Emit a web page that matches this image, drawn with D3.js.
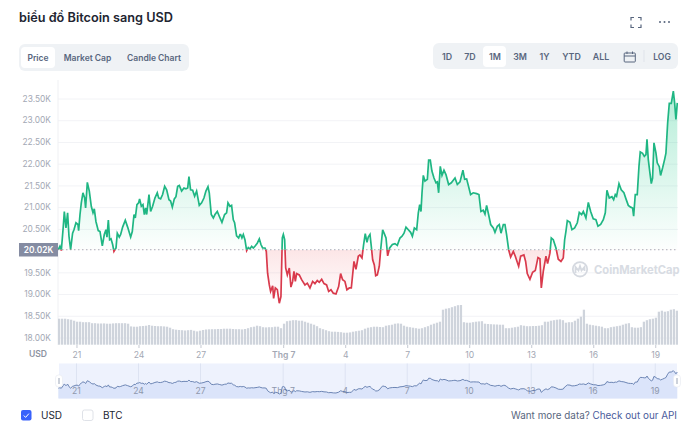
<!DOCTYPE html>
<html>
<head>
<meta charset="utf-8">
<script src="https://cdn.jsdelivr.net/npm/d3@7"></script>
<style>
	html, body { margin: 0; padding: 0; background: #fff; }
	text { font-family: Inter, "Noto Sans", sans-serif; }
</style>
</head>
<body>
<div id="chart"></div>
<script>
const TITLE = "biểu đồ Bitcoin sang USD";
const TYPE_TABS = ["Price", "Market Cap", "Candle Chart"];
const RANGE_TABS = ["1D", "7D", "1M", "3M", "1Y", "YTD", "ALL"];

// hours since 21 June
const hours = [-21.1,-19.2,-17.6,-15.3,-14.1,-12.2,-10.3,-8.7,-6.8,-4.5,-2.9,-0.6,1.7,2.5,4.1,5.6,7.5,9.5,10.6,12.6,14.9,17.2,19.2,20.7,22.6,25.3,27.3,30,32.3,34.2,35.4,37,38.5,40.1,42,43.5,45.9,47.4,49.7,51.3,53.6,56.7,59.4,62.9,64.8,66.8,68.3,70.2,72.2,73.3,75.3,77.2,78.8,80.3,81.5,84.2,86.1,88.4,91.1,93.8,95.4,97.7,100,102.4,104.7,107.4,109.3,111.3,113.6,115.5,117.5,119.4,122.1,124.8,127.1,129.1,130.6,132.5,134.9,137.2,139.5,142.6,145.3,148,150.3,152.7,154.2,156.5,158.9,160.8,163.5,165.8,168.9,172,174.3,175.9,178.2,180.1,182.1,183.6,185.9,188.3,189.8,
	190.6,192.1,193.7,195.6,197.6,199.5,201.4,203.4,205.3,207.2,209.9,212.3,214.2,216.1,218.9,220.4,221.9,223.9,225.4,227.8,228.9,230.9,233.2,235.5,237.4,239,240.2,241.7,242.9,244.8,247.1,249,251,252.5,254.1,255.6,258.7,261.4,265.3,268,271.1,274.2,276.9,279.6,281.9,284.7,287.4,290.4,292.8,295.5,298.2,301.3,304.4,306.7,309,311.7,314,316.8,319.1,322.2,324.5,327.2,329.1,331.5,333.4,335.3,337.3,338.8,340.8,342.3,343.9,345.8,347.4,349.3,351.6,353.2,355.5,357.4,359.4,361.3,363.6,366.8,369.8,372.5,375.6,378,380.3,382.6,385.3,388,390,392.3,395,396.9,398.5,400,401.2,402.7,404.6,407.4,408.9,410.8,412.7,415.1,417.4,419,420.5,422.4,424.4,426.7,429,432.1,435.2,437.5,439.5,442.2,445.3,
	448.7,450.7,453,455.7,457.6,460.7,464.6,467.3,469.6,472.3,474.3,476.2,478.5,480.9,484,485.9,488.6,490.9,492.9,495.6,497.5,499.4,501.8,504.1,507.2,509.5,511.8,513.4,515.7,519.5,521.5,523.4,526.5,529.6,532.7,535.8,538.1,539.7,542,545.1,547,549.7,551.3,553.6,556.7,559.4,562.5,565.2,566.8,568.3,569.9,573,575.3,578.4,581.5,583.8,586.5,588.5,591.5,594.3,597,600,603.1,605.5,608.6,611.7,614,615.9,618.6,621.7,623.7,625.6,627.1,629.9,632.5,635.6,638,640.7,643.4,645.7,646.9,648.8,651.1,653.1,654.6,657.3,659.3,661.2,662.4,663.9,665.8,667.4,668.9,670.5,672.8,674.3,676.7,678.2,680.5,682.9,684.4,686.4,688.3,690.6,693,694.5,696,697.6];

// price in thousands of USD
const prices = [20.02,20.10,20.00,20.56,20.90,20.52,20.87,20.33,20.02,20.40,20.48,20.64,20.60,20.46,20.83,21.10,21.33,21.21,20.98,21.57,21.37,21.02,20.87,20.96,20.67,20.46,20.44,20.11,20.37,20.48,20.31,20.70,20.25,20.27,20.14,19.98,20.06,20.40,20.31,20.37,20.54,20.70,20.54,20.31,20.44,20.83,20.75,21.06,21.10,21.19,21.02,21.06,20.83,20.98,20.83,21.29,20.90,21.02,21.21,21.33,21.21,21.19,21.29,21.48,21.40,21.17,21.14,21.00,21.19,21.24,21.48,21.50,21.37,21.44,21.42,21.44,21.70,21.40,21.39,21.25,21.37,21.04,21.10,21.21,21.37,21.47,21.33,20.83,20.75,20.83,20.90,20.79,20.65,20.83,20.87,21.10,21.02,21.04,20.71,20.64,20.34,20.29,20.37,
	20.37,20.29,20.37,20.25,20.00,20.07,20.04,20.10,20.06,20.10,20.17,20.27,20.14,20.06,20.06,19.98,19.48,19.21,19.06,19.19,18.90,19.14,19.10,18.79,18.94,20.29,20.37,20.25,19.60,19.44,19.60,19.16,19.29,19.52,19.29,19.47,19.44,19.33,19.21,19.25,19.14,19.29,19.24,19.31,19.27,19.34,19.24,19.21,19.06,19.10,19.02,19.00,19.17,19.47,19.33,19.29,19.10,19.14,19.14,19.75,19.57,19.87,19.90,19.83,20.14,20.39,20.19,20.31,20.37,20.10,19.79,19.67,19.42,19.44,19.64,20.02,20.48,20.39,20.29,19.88,20.06,20.14,20.16,20.12,20.29,20.33,20.40,20.54,20.48,20.42,20.33,20.52,20.48,20.87,21.06,20.90,21.33,21.73,21.60,21.64,22.08,22.08,21.83,21.67,21.56,21.58,21.33,21.94,21.73,21.85,21.75,21.52,21.56,21.62,21.67,21.52,21.58,
	21.85,21.64,21.65,21.44,21.29,21.33,21.31,21.29,20.90,20.93,20.84,21.04,20.83,20.60,20.52,20.42,20.56,20.60,20.40,20.60,20.60,20.37,20.02,19.85,19.98,19.87,19.73,19.64,19.87,19.90,19.75,19.47,19.34,19.50,19.54,19.84,19.81,19.14,19.52,19.87,19.70,19.94,20.29,20.25,20.06,19.80,19.75,19.83,20.25,20.44,20.69,20.65,20.48,20.52,20.64,20.88,20.83,20.90,20.75,21.11,20.90,20.73,20.71,20.56,20.60,20.71,20.87,21.39,21.21,21.24,21.17,21.29,21.25,21.54,21.40,21.33,21.19,21.04,21.00,20.98,20.79,21.29,21.29,21.94,22.27,22.24,22.17,22.21,22.56,22.10,21.79,21.54,21.67,22.48,22.25,22.02,21.93,21.73,21.90,22.10,22.24,22.94,23.39,23.39,23.67,23.40,23.02,23.40];

const BASE_PRICE = 20.02;

// volume
const volumes = [26,26,26,25.5,25,24,23,23,22.5,22.5,22.5,21.5,21.5,21.2,21.2,21.3,21,21,21.3,21.5,21.5,21.5,21.5,21,18.3,18,18,18.5,18.7,19,19.7,19,18.7,18.5,18.5,18.3,18,17,15.5,15,14.7,14.5,14.2,14.5,14.8,14,13.3,14,14.7,15.2,15.4,15.5,15.5,15.7,15.7,16,16,16,15.7,15.5,15.5,15.3,15.7,16.5,17.5,18,19,18.5,17.5,17.3,17.5,17.5,18,18,16.5,21,23.5,24,24.5,24.5,24,24,23,22,21,20,18.5,16.5,15.5,14.5,13.5,13,13,12.8,12.5,12,12,
	12.3,13,13.5,14,14.5,16,17,17.5,18,18,17.7,17.5,19,19.5,20,21,21.3,21,19,18,17.5,17,16.5,16,16.5,17.5,18.5,20,21,22,23,35,36,36.5,37.5,38.5,39.5,39.7,22.5,22,22,22.5,23,23.3,23.5,21,20.7,20.5,20.3,20.2,20,20,16.5,16.5,17,17.5,18,19.5,19,18.5,18.5,18.7,18.7,19,19.5,23,23,24,24.5,25,25.3,24.5,22,22.5,22.5,24,26,28,35,21,20,19.5,19,18.5,18,16.5,16.5,17.5,18,18.5,19,20,21,21.5,17.5,17,17,17.5,23,24.5,25.5,26,27,33,34,33,33.5,35,35.5,34];

// 20.00K sits behind the 20.02K label, so it is not listed
const yTicks = [18, 18.5, 19, 19.5, 20.5, 21, 21.5, 22, 22.5, 23, 23.5];
const xTickHours = [0, 72, 144, 240, 312, 384, 456, 528, 600, 672];
const xTickLabels = ["21", "24", "27", "Thg 7", "4", "7", "10", "13", "16", "19"];

const WIDTH = 700, HEIGHT = 438;
const PLOT = { L: 58, R: 678, T: 80, B: 345 };
const GREEN = "#1fb683", RED = "#d93a4c", GREY = "#a3a8b4", TAB_TEXT = "#58667e";

var svg = d3.select("#chart").append("svg")
	.attr("width", WIDTH)
	.attr("height", HEIGHT)
	.style("display", "block");

var xScale = d3.scaleLinear().domain([-21.1, 697.6]).range([58.3, 677.3]);
var yScale = d3.scaleLinear().domain([18, 23.5]).range([337.5, 98.5]);
var volScale = d3.scaleLinear().domain([0, 40]).range([344.7, 304.7]);
var barScale = d3.scaleBand().domain(d3.range(volumes.length)).range([PLOT.L, PLOT.R]).paddingInner(0.25);
var navY = d3.scaleLinear().domain([18.79, 23.67]).range([394, 370.7]);

var series = hours.map(function(h, i) { return { h: h, p: prices[i] }; });

// header
svg.append("text").attr("x", 19).attr("y", 22)
	.attr("font-size", 12.7).attr("font-weight", 600).attr("fill", "#222531")
	.text(TITLE);

// fullscreen icon + more dots
svg.append("path")
	.attr("d", "M631 20.5v-3h3M638 17.5h3v3M641 24.5v3h-3M634 27.5h-3v-3")
	.attr("fill", "none").attr("stroke", "#58667e").attr("stroke-width", 1.2);
svg.selectAll(".dot").data([660, 664.5, 669]).enter().append("circle")
	.attr("class", "dot").attr("cx", function(d) { return d; }).attr("cy", 22).attr("r", 1)
	.attr("fill", "#58667e");

// type tabs
svg.append("rect").attr("x", 19).attr("y", 44).attr("width", 170).attr("height", 27).attr("rx", 6).attr("fill", "#eff2f5");
svg.append("rect").attr("x", 21).attr("y", 47).attr("width", 34).attr("height", 21).attr("rx", 4).attr("fill", "#fff");
var typeX = [38, 87.5, 154];
svg.selectAll(".type-tab").data(TYPE_TABS).enter().append("text")
	.attr("class", "type-tab")
	.attr("x", function(d, i) { return typeX[i]; })
	.attr("y", 60.5)
	.attr("text-anchor", "middle").attr("font-size", 8.5).attr("font-weight", 600).attr("fill", TAB_TEXT)
	.text(function(d) { return d; });

// range tabs
svg.append("rect").attr("x", 433).attr("y", 43).attr("width", 245).attr("height", 26).attr("rx", 6).attr("fill", "#eff2f5");
svg.append("rect").attr("x", 483).attr("y", 46).attr("width", 23).attr("height", 21).attr("rx", 4).attr("fill", "#fff");
var rangeX = [447, 470, 495, 520, 544.5, 571.5, 601];
svg.selectAll(".range-tab").data(RANGE_TABS).enter().append("text")
	.attr("class", "range-tab")
	.attr("x", function(d, i) { return rangeX[i]; })
	.attr("y", 60)
	.attr("text-anchor", "middle").attr("font-size", 8.8).attr("font-weight", 600).attr("fill", TAB_TEXT)
	.text(function(d) { return d; });
svg.append("path")
	.attr("d", "M625 53h9.5a0.8 0.8 0 0 1 .8 .8v7.4a0.8 0.8 0 0 1 -.8 .8h-9.5a0.8 0.8 0 0 1 -.8 -.8v-7.4a0.8 0.8 0 0 1 .8 -.8zM624.2 56h11.1M627 51.5v2.5M632.5 51.5v2.5")
	.attr("fill", "none").attr("stroke", TAB_TEXT).attr("stroke-width", 1);
svg.append("line").attr("x1", 644).attr("x2", 644).attr("y1", 50).attr("y2", 62).attr("stroke", "#dfe3ea");
svg.append("text").attr("x", 662).attr("y", 59.5).attr("text-anchor", "middle")
	.attr("font-size", 8.6).attr("font-weight", 600).attr("fill", TAB_TEXT).text("LOG");

// y axis and gridlines
var yAxis = svg.append("g")
	.attr("transform", "translate(" + PLOT.L + ",0)")
	.call(d3.axisLeft(yScale)
		.tickValues(yTicks)
		.tickSize(0)
		.tickPadding(7)
		.tickFormat(function(d) { return d3.format(".2f")(d) + "K"; }));
yAxis.select(".domain").remove();
yAxis.selectAll("text").attr("font-size", 8.4).attr("fill", GREY).style("font-family", "Inter");
yAxis.selectAll(".tick").append("line")
	.attr("x1", 0).attr("x2", PLOT.R - PLOT.L).attr("stroke", "#f2f3f6");
svg.append("line").attr("x1", PLOT.L).attr("x2", PLOT.L).attr("y1", PLOT.T).attr("y2", PLOT.B).attr("stroke", "#eff0f3");

// volume bars
svg.append("g").selectAll("rect").data(volumes).enter().append("rect")
	.attr("x", function(d, i) { return barScale(i); })
	.attr("y", function(d) { return volScale(d); })
	.attr("width", barScale.bandwidth())
	.attr("height", function(d) { return volScale(0) - volScale(d); })
	.attr("fill", "#cfd4dc");

// area gradients
var defs = svg.append("defs");
var greenGrad = defs.append("linearGradient").attr("id", "green-fill")
	.attr("gradientUnits", "userSpaceOnUse").attr("x1", 0).attr("x2", 0)
	.attr("y1", yScale(23.67)).attr("y2", yScale(BASE_PRICE));
greenGrad.append("stop").attr("offset", 0).attr("stop-color", "#16c784").attr("stop-opacity", 0.32);
greenGrad.append("stop").attr("offset", 1).attr("stop-color", "#16c784").attr("stop-opacity", 0.01);
var redGrad = defs.append("linearGradient").attr("id", "red-fill")
	.attr("gradientUnits", "userSpaceOnUse").attr("x1", 0).attr("x2", 0)
	.attr("y1", yScale(BASE_PRICE)).attr("y2", yScale(18.85));
redGrad.append("stop").attr("offset", 0).attr("stop-color", "#ea3943").attr("stop-opacity", 0.13);
redGrad.append("stop").attr("offset", 1).attr("stop-color", "#ea3943").attr("stop-opacity", 0.01);
defs.append("clipPath").attr("id", "above").append("rect")
	.attr("x", PLOT.L).attr("y", 0).attr("width", PLOT.R - PLOT.L).attr("height", yScale(BASE_PRICE));
defs.append("clipPath").attr("id", "below").append("rect")
	.attr("x", PLOT.L).attr("y", yScale(BASE_PRICE)).attr("width", PLOT.R - PLOT.L).attr("height", HEIGHT);

var area = d3.area()
	.x(function(d) { return xScale(d.h); })
	.y0(yScale(BASE_PRICE))
	.y1(function(d) { return yScale(d.p); });
var line = d3.line()
	.x(function(d) { return xScale(d.h); })
	.y(function(d) { return yScale(d.p); });

// watermark
var mark = svg.append("g").attr("fill", "none").attr("stroke", "#d5d9e0").attr("stroke-width", 1.8);
mark.append("circle").attr("cx", 580).attr("cy", 269.3).attr("r", 7.2);
mark.append("path").attr("d", "M575.5 273v-6l3 3.5 1.5-4.5 1.5 4.5 3-3.5v4");
svg.append("text").attr("x", 594).attr("y", 273.5)
	.attr("font-size", 11.2).attr("font-weight", 700).attr("fill", "#d8dce3").text("CoinMarketCap");

svg.append("path").datum(series).attr("d", area).attr("fill", "url(#green-fill)").attr("clip-path", "url(#above)");
svg.append("path").datum(series).attr("d", area).attr("fill", "url(#red-fill)").attr("clip-path", "url(#below)");

// base price dotted line and label
svg.append("line")
	.attr("x1", PLOT.L).attr("x2", PLOT.R)
	.attr("y1", yScale(BASE_PRICE)).attr("y2", yScale(BASE_PRICE))
	.attr("stroke", "#a9aeb9").attr("stroke-width", 1).attr("stroke-dasharray", "1.5,2.5");
svg.append("path").datum(series).attr("d", line)
	.attr("fill", "none").attr("stroke", GREEN).attr("stroke-width", 1.7).attr("clip-path", "url(#above)");
svg.append("path").datum(series).attr("d", line)
	.attr("fill", "none").attr("stroke", RED).attr("stroke-width", 1.7).attr("clip-path", "url(#below)");
svg.append("rect").attr("x", 19).attr("y", 243).attr("width", 39).attr("height", 13.5).attr("fill", "#858ca2");
svg.append("text").attr("x", 38.5).attr("y", 253).attr("text-anchor", "middle")
	.attr("font-size", 8.4).attr("font-weight", 600).attr("fill", "#fff").text("20.02K");

// x axis
var xAxis = svg.append("g")
	.attr("transform", "translate(0," + PLOT.B + ")")
	.call(d3.axisBottom(xScale)
		.tickValues(xTickHours)
		.tickSize(3)
		.tickPadding(4)
		.tickFormat(function(d, i) { return xTickLabels[i]; }));
xAxis.select(".domain").remove();
xAxis.selectAll("line").attr("stroke", "#c5c9d2");
xAxis.selectAll("text").attr("font-size", 8.6).attr("fill", GREY).style("font-family", "Inter")
	.attr("font-weight", function(d) { return d === 240 ? 600 : 400; });
svg.append("text").attr("x", 38).attr("y", 357).attr("text-anchor", "middle")
	.attr("font-size", 8.6).attr("font-weight", 600).attr("fill", "#8d93a1").text("USD");

// navigator
var NAV = { T: 363.5, B: 398.5 };
svg.append("rect").attr("x", 59).attr("y", NAV.T).attr("width", 618).attr("height", NAV.B - NAV.T).attr("fill", "#eef2fd");
svg.append("g").selectAll("line").data(xTickHours).enter().append("line")
	.attr("x1", function(d) { return xScale(d); }).attr("x2", function(d) { return xScale(d); })
	.attr("y1", NAV.T).attr("y2", NAV.B).attr("stroke", "#dde3f2");
var navArea = d3.area()
	.x(function(d) { return xScale(d.h); })
	.y0(NAV.B)
	.y1(function(d) { return navY(d.p); });
var navLine = d3.line()
	.x(function(d) { return xScale(d.h); })
	.y(function(d) { return navY(d.p); });
svg.append("path").datum(series).attr("d", navArea).attr("fill", "#dbe4fa");
svg.selectAll(".nav-tick").data(xTickHours).enter().append("text")
	.attr("class", "nav-tick")
	.attr("x", function(d) { return xScale(d); }).attr("y", 394)
	.attr("text-anchor", "middle").attr("font-size", 8.6).attr("fill", "#8f98ad")
	.text(function(d, i) { return xTickLabels[i]; });
svg.append("path").datum(series).attr("d", navLine)
	.attr("fill", "none").attr("stroke", "#5f79ab").attr("stroke-width", 0.9);
[59, 677].forEach(function(x) {
	svg.append("rect").attr("x", x - 3.5).attr("y", 375).attr("width", 7).attr("height", 12).attr("rx", 3)
		.attr("fill", "#fff").attr("stroke", "#e6e9f0").attr("stroke-width", 0.6);
	svg.append("line").attr("x1", x).attr("x2", x).attr("y1", 378).attr("y2", 384)
		.attr("stroke", "#b8bfcc").attr("stroke-width", 1.4);
});

// footer
svg.append("rect").attr("x", 21).attr("y", 410).attr("width", 10.5).attr("height", 10.5).attr("rx", 2).attr("fill", "#3861fb");
svg.append("path").attr("d", "M23.8 415.5l1.8 1.9 3.3-3.8").attr("fill", "none").attr("stroke", "#fff").attr("stroke-width", 1);
svg.append("text").attr("x", 41).attr("y", 419).attr("font-size", 10).attr("fill", "#222531").text("USD");
svg.append("rect").attr("x", 82.5).attr("y", 410).attr("width", 10.5).attr("height", 10.5).attr("rx", 2)
	.attr("fill", "#fff").attr("stroke", "#dfe2e8");
svg.append("text").attr("x", 103).attr("y", 419).attr("font-size", 10).attr("fill", "#222531").text("BTC");
var more = svg.append("text").attr("x", 677).attr("y", 419).attr("text-anchor", "end").attr("font-size", 9.9);
more.append("tspan").attr("fill", "#58667e").text("Want more data? ");
more.append("tspan").attr("fill", "#4a5c9c").text("Check out our API");
</script>
</body>
</html>
